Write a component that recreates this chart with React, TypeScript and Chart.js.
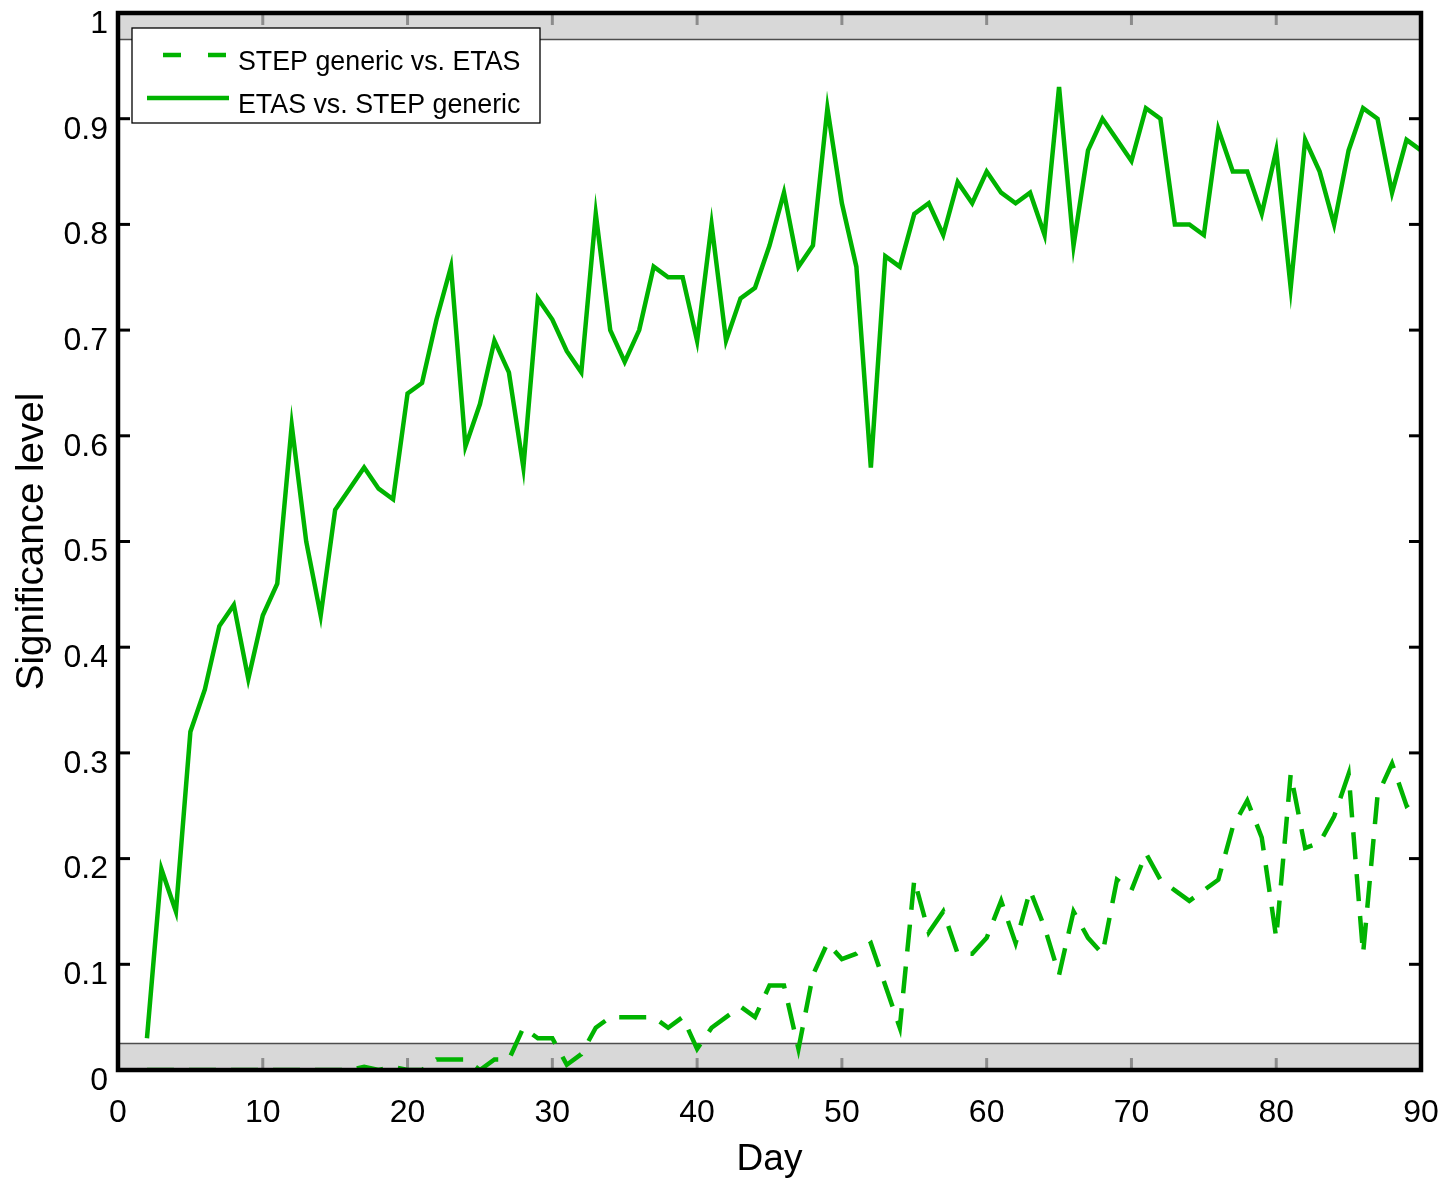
import { useEffect, useRef } from "react";
import { Chart, registerables } from "chart.js";

Chart.register(...registerables);

// Forecast day (x axis)
const DAYS = [
  2, 3, 4, 5, 6, 7, 8, 9, 10, 11, 12, 13, 14, 15, 16, 17, 18, 19, 20, 21,
  22, 23, 24, 25, 26, 27, 28, 29, 30, 31, 32, 33, 34, 35, 36, 37, 38, 39, 40, 41,
  42, 43, 44, 45, 46, 47, 48, 49, 50, 51, 52, 53, 54, 55, 56, 57, 58, 59, 60, 61,
  62, 63, 64, 65, 66, 67, 68, 69, 70, 71, 72, 73, 74, 75, 76, 77, 78, 79, 80, 81,
  82, 83, 84, 85, 86, 87, 88, 89, 90,
];

// Significance level, STEP generic vs. ETAS (dashed)
const STEP_VS_ETAS = [
  0, 0, 0, 0, 0, 0, 0, 0, 0, 0, 0, 0, 0, 0, 0, 0.003, 0, 0.003, 0, 0,
  0.01, 0.01, 0.01, 0, 0.01, 0.01, 0.04, 0.03, 0.03, 0.005, 0.015, 0.04, 0.05, 0.05, 0.05, 0.05, 0.04, 0.05, 0.02, 0.04,
  0.05, 0.06, 0.05, 0.08, 0.08, 0.02, 0.09, 0.12, 0.105, 0.11, 0.12, 0.08, 0.04, 0.18, 0.13, 0.15, 0.11, 0.11, 0.125, 0.16,
  0.12, 0.17, 0.135, 0.09, 0.15, 0.125, 0.11, 0.18, 0.17, 0.205, 0.18, 0.17, 0.16, 0.17, 0.18, 0.23, 0.255, 0.22, 0.125, 0.28,
  0.21, 0.215, 0.24, 0.28, 0.11, 0.26, 0.29, 0.25, 0.26,
];

// Significance level, ETAS vs. STEP generic (solid)
const ETAS_VS_STEP = [
  0.03, 0.19, 0.15, 0.32, 0.36, 0.42, 0.44, 0.37, 0.43, 0.46, 0.61, 0.5, 0.43, 0.53, 0.55, 0.57, 0.55, 0.54, 0.64, 0.65,
  0.71, 0.76, 0.59, 0.63, 0.69, 0.66, 0.57, 0.73, 0.71, 0.68, 0.66, 0.81, 0.7, 0.67, 0.7, 0.76, 0.75, 0.75, 0.69, 0.8,
  0.69, 0.73, 0.74, 0.78, 0.83, 0.76, 0.78, 0.91, 0.82, 0.76, 0.57, 0.77, 0.76, 0.81, 0.82, 0.79, 0.84, 0.82, 0.85, 0.83,
  0.82, 0.83, 0.79, 0.93, 0.78, 0.87, 0.9, 0.88, 0.86, 0.91, 0.9, 0.8, 0.8, 0.79, 0.89, 0.85, 0.85, 0.81, 0.87, 0.74,
  0.88, 0.85, 0.8, 0.87, 0.91, 0.9, 0.83, 0.88, 0.87,
];

const X_TICKS = [0, 10, 20, 30, 40, 50, 60, 70, 80, 90];
const Y_TICKS = [0, 0.1, 0.2, 0.3, 0.4, 0.5, 0.6, 0.7, 0.8, 0.9, 1];

// Shaded significance bands at the bottom and top of the axis
const BAND_LOW = 0.025;
const BAND_HIGH = 0.975;

const GREEN = "#00b300";
const FONT = "'Liberation Sans', Arial, Helvetica, sans-serif";

const framePlugin = {
  id: "matlabFrame",
  beforeDatasetsDraw(chart: any) {
    const { ctx, chartArea: a, scales } = chart;
    const x = scales.x;
    const y = scales.y;
    const line = (x1: number, y1: number, x2: number, y2: number) => {
      ctx.beginPath();
      ctx.moveTo(x1, y1);
      ctx.lineTo(x2, y2);
      ctx.stroke();
    };
    ctx.save();
    // inward tick marks on all four sides
    ctx.strokeStyle = "#000";
    ctx.lineWidth = 3;
    const L = 12;
    X_TICKS.forEach((v) => {
      const px = x.getPixelForValue(v);
      line(px, a.bottom, px, a.bottom - L);
      line(px, a.top, px, a.top + L);
    });
    Y_TICKS.forEach((v) => {
      const py = y.getPixelForValue(v);
      line(a.left, py, a.left + L, py);
      line(a.right, py, a.right - L, py);
    });
    // translucent grey bands
    const yLo = y.getPixelForValue(BAND_LOW);
    const yHi = y.getPixelForValue(BAND_HIGH);
    ctx.fillStyle = "rgba(200,200,200,0.7)";
    ctx.fillRect(a.left, yLo, a.right - a.left, a.bottom - yLo);
    ctx.fillRect(a.left, a.top, a.right - a.left, yHi - a.top);
    ctx.strokeStyle = "#4d4d4d";
    ctx.lineWidth = 1.5;
    line(a.left, yLo, a.right, yLo);
    line(a.left, yHi, a.right, yHi);
    ctx.restore();
  },
  afterDatasetsDraw(chart: any) {
    const { ctx, chartArea: a, data } = chart;
    ctx.save();
    // axes box
    ctx.strokeStyle = "#000";
    ctx.lineWidth = 4.5;
    ctx.strokeRect(a.left, a.top, a.right - a.left, a.bottom - a.top);

    // legend
    const lx = a.left + 14;
    const ly = a.top + 15;
    const lw = 408;
    const lh = 95;
    ctx.fillStyle = "#fff";
    ctx.fillRect(lx, ly, lw, lh);
    ctx.strokeStyle = "#000";
    ctx.lineWidth = 1.3;
    ctx.strokeRect(lx, ly, lw, lh);

    ctx.strokeStyle = GREEN;
    ctx.lineWidth = 4.5;
    ctx.lineCap = "butt";
    ctx.setLineDash([18, 27]);
    ctx.beginPath();
    ctx.moveTo(lx + 31, ly + 27);
    ctx.lineTo(lx + 97, ly + 27);
    ctx.stroke();
    ctx.setLineDash([]);
    ctx.beginPath();
    ctx.moveTo(lx + 15, ly + 70);
    ctx.lineTo(lx + 97, ly + 70);
    ctx.stroke();

    ctx.fillStyle = "#000";
    ctx.font = `26.8px ${FONT}`;
    ctx.textAlign = "left";
    ctx.textBaseline = "middle";
    ctx.fillText(data.datasets[0].label, lx + 106, ly + 35);
    ctx.fillText(data.datasets[1].label, lx + 106, ly + 78);
    ctx.restore();
  },
};

const fmtY = (v: number) => (v === 0 || v === 1 ? String(v) : v.toFixed(1));

export default function App() {
  const canvasRef = useRef<HTMLCanvasElement | null>(null);

  useEffect(() => {
    const canvas = canvasRef.current;
    if (!canvas) return;
    const chart = new Chart(canvas, {
      type: "line",
      data: {
        datasets: [
          {
            label: "STEP generic vs. ETAS",
            data: DAYS.map((d, i) => ({ x: d, y: STEP_VS_ETAS[i] })),
            borderColor: GREEN,
            borderWidth: 4.5,
            borderDash: [27, 15],
            borderCapStyle: "butt",
            pointRadius: 0,
            tension: 0,
            fill: false,
            clip: 0,
          },
          {
            label: "ETAS vs. STEP generic",
            data: DAYS.map((d, i) => ({ x: d, y: ETAS_VS_STEP[i] })),
            borderColor: GREEN,
            borderWidth: 4.5,
            pointRadius: 0,
            tension: 0,
            fill: false,
            clip: 0,
          },
        ],
      },
      options: {
        animation: false,
        responsive: false,
        maintainAspectRatio: false,
        layout: { padding: { top: 13, right: 26, left: 0, bottom: 0 } },
        plugins: {
          legend: { display: false },
          tooltip: { enabled: false },
        },
        scales: {
          x: {
            type: "linear",
            min: 0,
            max: 90,
            afterFit: (s: any) => {
              s.height = 109;
              s.paddingLeft = 0;
              s.paddingRight = 0;
            },
            afterBuildTicks: (s: any) => {
              s.ticks = X_TICKS.map((v) => ({ value: v }));
            },
            grid: { display: false, drawTicks: false, tickLength: 0 },
            border: { display: false },
            ticks: {
              color: "#000",
              font: { family: FONT, size: 32 },
              padding: 24,
              maxRotation: 0,
              autoSkip: false,
              callback: (v: any) => String(v),
            },
            title: {
              display: true,
              text: "Day",
              color: "#000",
              font: { family: FONT, size: 37, lineHeight: 1 },
              padding: { top: 0, bottom: 0.5 },
            },
          },
          y: {
            type: "linear",
            min: 0,
            max: 1,
            afterFit: (s: any) => {
              s.width = 118;
              s.paddingTop = 0;
              s.paddingBottom = 0;
            },
            afterBuildTicks: (s: any) => {
              s.ticks = Y_TICKS.map((v) => ({ value: v }));
            },
            grid: { display: false, drawTicks: false, tickLength: 0 },
            border: { display: false },
            ticks: {
              color: "#000",
              font: { family: FONT, size: 32 },
              padding: 10,
              labelOffset: 11,
              autoSkip: false,
              callback: (v: any) => fmtY(Number(v)),
            },
            title: {
              display: true,
              text: "Significance level",
              color: "#000",
              font: { family: FONT, size: 38.5, lineHeight: 1 },
              padding: { top: 13, bottom: 0 },
            },
          },
        },
      },
      plugins: [framePlugin],
    } as any);
    return () => chart.destroy();
  }, []);

  return (
    <div
      style={{
        position: "absolute",
        left: 0,
        top: 0,
        width: 1447,
        height: 1179,
        background: "#fff",
      }}
    >
      <canvas ref={canvasRef} width={1447} height={1179} style={{ display: "block" }} />
    </div>
  );
}
